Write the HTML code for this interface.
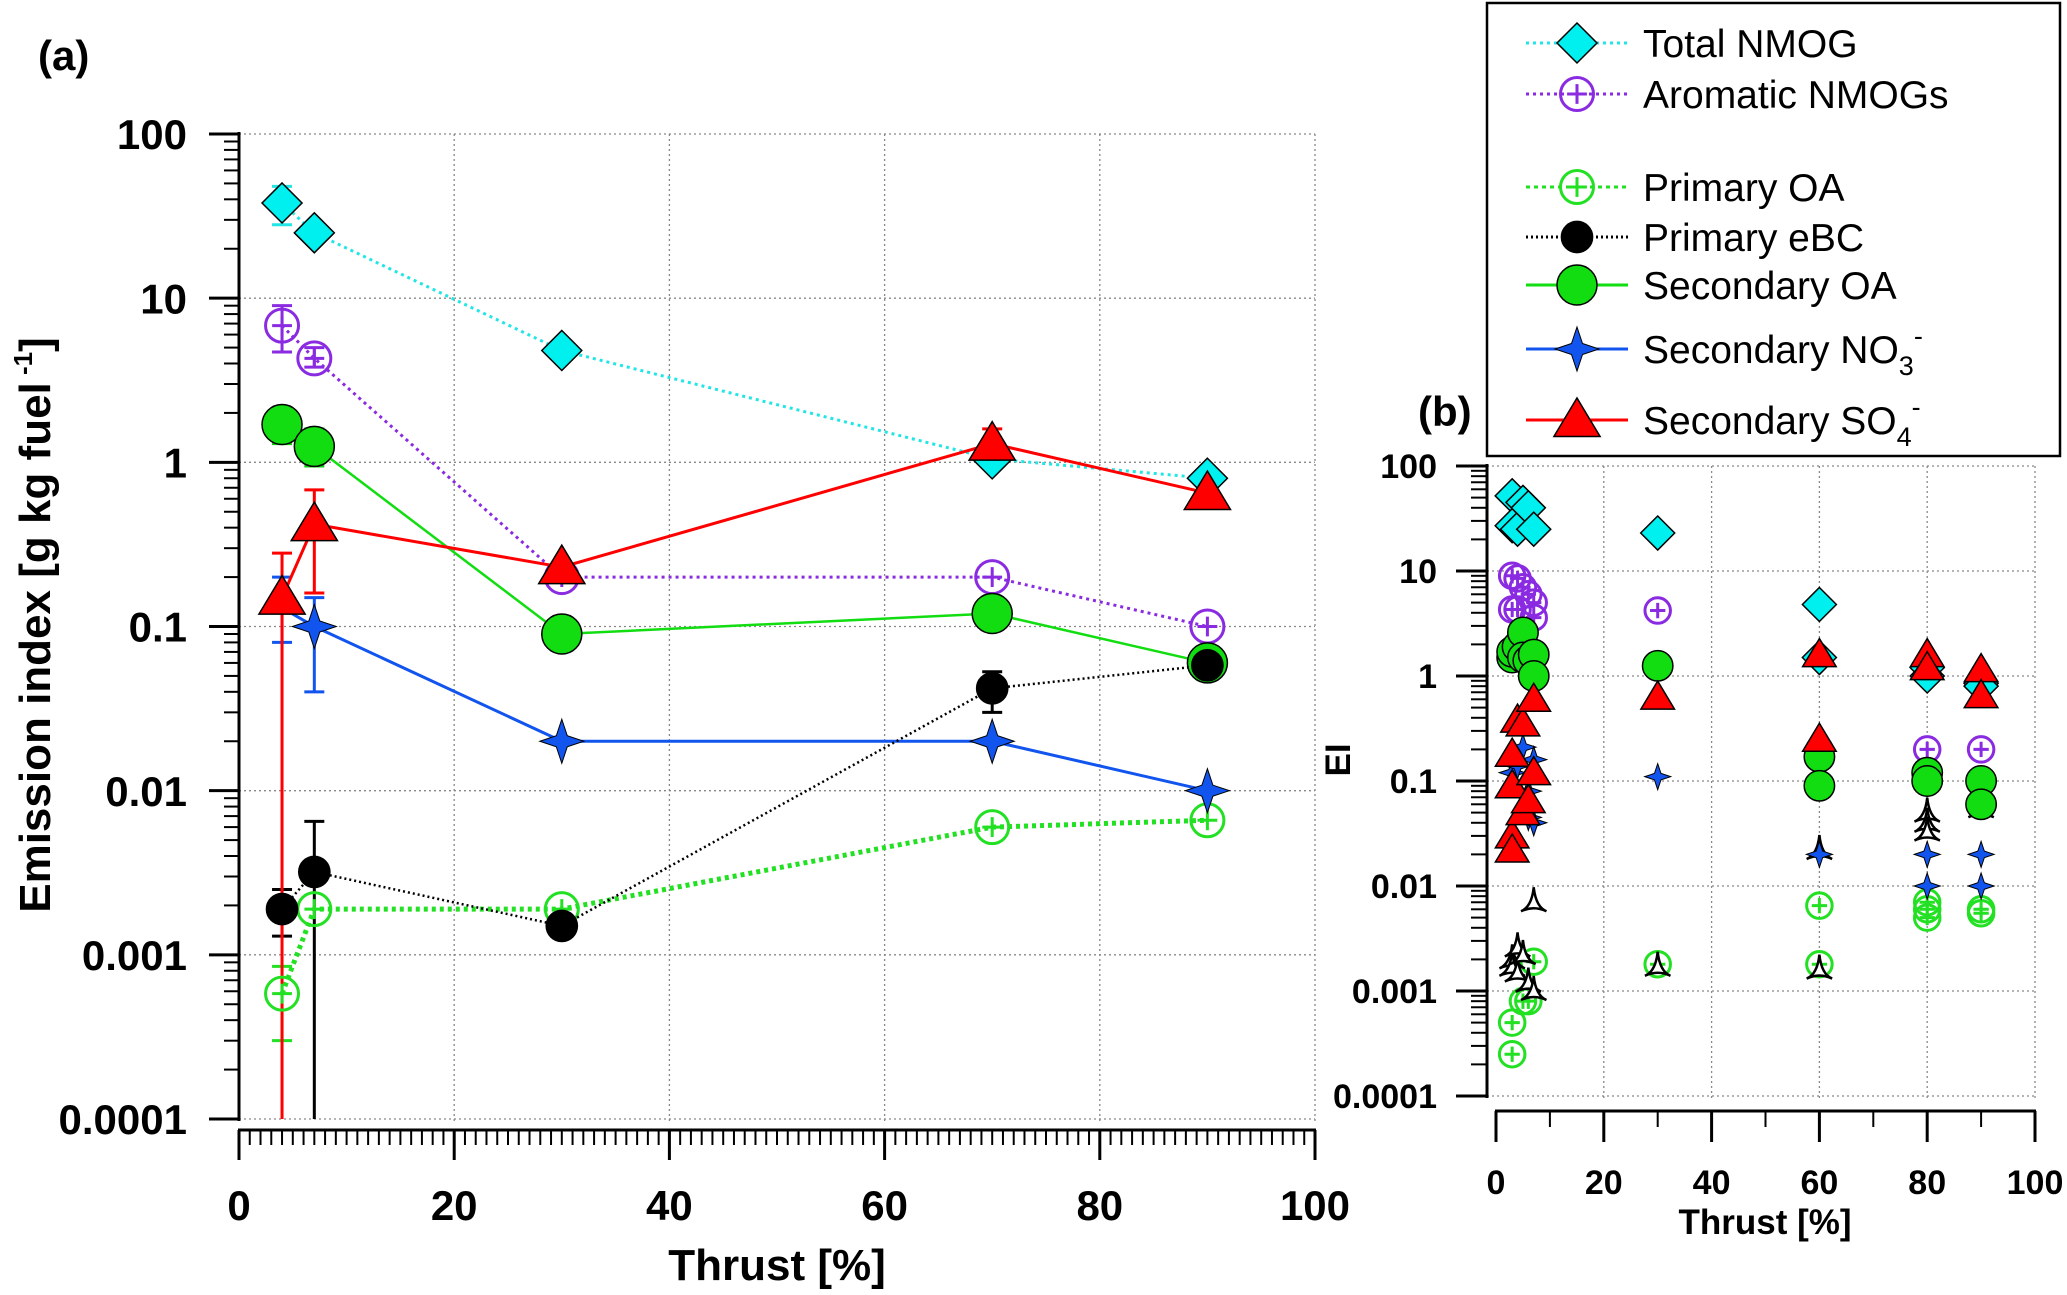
<!DOCTYPE html>
<html><head><meta charset="utf-8"><style>
html,body{margin:0;padding:0;background:#fff;}
svg{display:block;font-family:"Liberation Sans",Arial,sans-serif;}
</style></head><body>
<svg id="s" width="2067" height="1295" viewBox="0 0 2067 1295" xmlns="http://www.w3.org/2000/svg">
<text x="38" y="70" font-size="42" font-weight="bold">(a)</text>
<text x="1418" y="426" font-size="42" font-weight="bold">(b)</text>
<text transform="translate(50,625) rotate(-90)" text-anchor="middle" font-size="44" font-weight="bold">Emission index [g kg fuel<tspan dy="-18" font-size="26"> -1</tspan><tspan dy="18">]</tspan></text>
<text x="777" y="1280" text-anchor="middle" font-size="44" font-weight="bold">Thrust [%]</text>
<text x="1765" y="1234" text-anchor="middle" font-size="35" font-weight="bold">Thrust [%]</text>
<text transform="translate(1350,760) rotate(-90)" text-anchor="middle" font-size="35" font-weight="bold">EI</text>
<g id="ga"></g>
<g id="gb"></g>
<g id="leg"></g>
</svg>
<script>
const xA=[4,7,30,70,90];
const nmogA=[38,25,4.8,1.05,0.8];
const aromA=[6.8,4.3,0.2,0.2,0.1];
const poaA=[0.00058,0.0019,0.0019,0.006,0.0066];
const ebcA=[0.0019,0.0032,0.0015,0.042,0.058];
const soaA=[1.7,1.25,0.09,0.12,0.06];
const no3A=[0.13,0.1,0.02,0.02,0.01];
const so4A=[0.15,0.42,0.23,1.3,0.65];
const errA=[["nmog",4,28,48],["arom",4,4.7,9],["arom",7,3.8,5],["poa",4,0.0003,0.00085],["ebc",4,0.0013,0.0025],["ebc",7,0.0001,0.0065],["ebc",70,0.03,0.053],["soa",4,1.3,2.1],["soa",7,0.95,1.6],["no3",4,0.08,0.2],["no3",7,0.04,0.15],["so4",4,0.0001,0.28],["so4",7,0.16,0.68],["so4",70,1.1,1.6]];
const nmogB=[[3,52],[3,27],[4,25],[5,45],[6,40],[7,25],[30,23],[60,4.8],[60,1.5],[80,1.2],[80,1.0],[90,0.85],[90,0.8]];
const aromB=[[3,9],[4,8.5],[5,7],[6,6],[7,5],[3,4.3],[4,4.3],[7,3.6],[30,4.2],[60,0.2],[80,0.2],[80,0.1],[90,0.2],[90,0.1]];
const poaB=[[3,0.0005],[3,0.00025],[5,0.0008],[6,0.0008],[7,0.0019],[30,0.0018],[60,0.0065],[60,0.0018],[80,0.007],[80,0.006],[80,0.005],[90,0.006],[90,0.0055]];
const ebcB=[[3,0.002],[3,0.0017],[4,0.0026],[4,0.0015],[5,0.0022],[6,0.0012],[7,0.001],[7,0.007],[30,0.0017],[60,0.0016],[60,0.022],[80,0.05],[80,0.04],[80,0.033],[90,0.06],[90,0.055]];
const soaB=[[3,1.5],[3,1.7],[4,1.9],[5,2.6],[5,1.5],[6,1.4],[7,1.6],[7,1.0],[30,1.25],[60,0.17],[60,0.09],[80,0.12],[80,0.1],[90,0.1],[90,0.06]];
const no3B=[[3,0.12],[4,0.14],[5,0.21],[6,0.08],[7,0.16],[6,0.045],[7,0.04],[30,0.11],[60,0.02],[80,0.02],[80,0.01],[90,0.02],[90,0.01]];
const so4B=[[3,0.18],[3,0.09],[3,0.03],[3,0.022],[4,0.38],[5,0.35],[5,0.05],[6,0.065],[7,0.12],[7,0.6],[30,0.63],[60,1.6],[60,0.25],[80,1.6],[80,1.2],[90,1.15],[90,0.65]];
const yTicks=["0.0001","0.001","0.01","0.1","1","10","100"];
const xTicks=["0","20","40","60","80","100"];

const NS="http://www.w3.org/2000/svg";
function mk(p,t,a){const e=document.createElementNS(NS,t);for(const k in a)e.setAttribute(k,a[k]);p.appendChild(e);return e;}
function axes(x0,x1,ytop,ybot){return{X:v=>x0+(x1-x0)*v/100,Y:v=>ybot-(ybot-ytop)*(Math.log10(v)+4)/6};}
const A=axes(239,1315,134,1119), B=axes(1496,2035,466,1096);

function marker(g,type,cx,cy,s,nm){
 let e;
 if(type==="nmog"){e=mk(g,"path",{d:`M${cx} ${cy-s}L${cx+s} ${cy}L${cx} ${cy+s}L${cx-s} ${cy}Z`,fill:"#00f0f0",stroke:"#000","stroke-width":1.5});}
 else if(type==="arom"||type==="poa"){const c=type==="arom"?"#8a2be2":"#22e022";e=mk(g,"g",{});const r=s*0.75;
  mk(e,"circle",{cx,cy,r,fill:"none",stroke:c,"stroke-width":3});
  mk(e,"path",{d:`M${cx-r*0.6} ${cy}H${cx+r*0.6}M${cx} ${cy-r*0.6}V${cy+r*0.6}`,stroke:c,"stroke-width":3});}
 else if(type==="ebc"){e=mk(g,"circle",{cx,cy,r:s*0.72,fill:"#000",stroke:"#000"});}
 else if(type==="ebcB"){e=mk(g,"path",{d:`M${cx} ${cy-s}Q${cx+2} ${cy+s*0.3} ${cx+s*0.85} ${cy+s*0.6}Q${cx} ${cy+s*0.2} ${cx-s*0.85} ${cy+s*0.6}Q${cx-2} ${cy+s*0.3} ${cx} ${cy-s}Z`,fill:"#fff",stroke:"#000","stroke-width":2.5});}
 else if(type==="soa"){e=mk(g,"circle",{cx,cy,r:s*0.8,fill:"#11dd11",stroke:"#000","stroke-width":1.5});}
 else if(type==="no3"){const k=s*0.25;e=mk(g,"path",{d:`M${cx} ${cy-s}L${cx+k} ${cy-k}L${cx+s} ${cy}L${cx+k} ${cy+k}L${cx} ${cy+s}L${cx-k} ${cy+k}L${cx-s} ${cy}L${cx-k} ${cy-k}Z`,fill:"#1155ee",stroke:"#000","stroke-width":1});}
 else if(type==="so4"){e=mk(g,"path",{d:`M${cx} ${cy-s}L${cx+s*1.05} ${cy+s*0.75}L${cx-s*1.05} ${cy+s*0.75}Z`,fill:"#ff0000",stroke:"#000","stroke-width":1.5});}
 
 
 return e;
}

function frame(g,ax,x0,x1,ytop,ybot,yaxX,xaxY,fs,minorX,majLen,minLen,labDx,labY){
 for(let i=0;i<=6;i++){const y=ybot-(ybot-ytop)*i/6;mk(g,"line",{x1:yaxX,x2:x1,y1:y,y2:y,stroke:"#888","stroke-width":1.3,"stroke-dasharray":"2,3"});}
 for(let v=20;v<=100;v+=20){const x=ax.X(v);mk(g,"line",{x1:x,x2:x,y1:ytop,y2:ybot+2,stroke:"#888","stroke-width":1.3,"stroke-dasharray":"2,3"});}
 mk(g,"line",{x1:yaxX,x2:yaxX,y1:ytop-2,y2:ybot+2,stroke:"#000","stroke-width":3});
 mk(g,"line",{x1:x0-1,x2:x1+1,y1:xaxY,y2:xaxY,stroke:"#000","stroke-width":3});
 for(let i=0;i<=6;i++){const y=ybot-(ybot-ytop)*i/6;
  mk(g,"line",{x1:yaxX-majLen,x2:yaxX,y1:y,y2:y,stroke:"#000","stroke-width":3});
  const t=mk(g,"text",{x:yaxX-labDx,y:y+fs*0.36,"text-anchor":"end","font-size":fs,"font-weight":"bold"});t.textContent=yTicks[i];
  
  
  if(i<6)for(let m=2;m<=9;m++){const yy=y-(ybot-ytop)/6*Math.log10(m);mk(g,"line",{x1:yaxX-minLen,x2:yaxX,y1:yy,y2:yy,stroke:"#000","stroke-width":2});}}
 for(let v=0;v<=100;v+=minorX){const x=ax.X(v);const maj=v%20===0;mk(g,"line",{x1:x,x2:x,y1:xaxY,y2:xaxY+(maj?majLen:minLen),stroke:"#000","stroke-width":maj?3:2});}
 for(let i=0;i<6;i++){const t=mk(g,"text",{x:ax.X(i*20),y:labY,"text-anchor":"middle","font-size":fs,"font-weight":"bold"});t.textContent=xTicks[i];
  
  }
}
const ga=document.getElementById("ga"), gb=document.getElementById("gb");
frame(ga,A,239,1315,134,1119,239,1130,42,1,30,15,52,1220);
frame(gb,B,1496,2035,466,1096,1487,1111,34,10,31,16,50,1194);

const seriesA={nmog:nmogA,arom:aromA,poa:poaA,ebc:ebcA,soa:soaA,no3:no3A,so4:so4A};
const styleA={nmog:["#22e5e5",3,"3,4"],arom:["#8a2be2",3,"3,4"],poa:["#22e022",5,"4,4"],ebc:["#000",2.5,"2,3"],soa:["#11dd11",2.5,""],no3:["#1155ee",3,""],so4:["#ff0000",3,""]};
const colA={nmog:"#22e5e5",arom:"#8a2be2",poa:"#22e022",ebc:"#000",soa:"#11cc11",no3:"#1155ee",so4:"#ff0000"};
const sizeA={nmog:20,arom:22,poa:22,ebc:22,soa:25,no3:22,so4:22};
const order=["nmog","arom","poa","soa","no3","ebc","so4"];
errA.forEach(([k,x,lo,hi])=>{const g=mk(ga,"g",{});
 const cx=A.X(x),c=colA[k];mk(g,"line",{x1:cx,x2:cx,y1:A.Y(lo),y2:A.Y(hi),stroke:c,"stroke-width":3});
 [lo,hi].forEach(v=>{if(v>0.0001)mk(g,"line",{x1:cx-10,x2:cx+10,y1:A.Y(v),y2:A.Y(v),stroke:c,"stroke-width":3});});});
order.forEach(k=>{const d=seriesA[k],st=styleA[k];
 const pl=mk(ga,"polyline",{points:d.map((v,i)=>A.X(xA[i])+","+A.Y(v)).join(" "),fill:"none",stroke:st[0],"stroke-width":st[1],"stroke-dasharray":st[2]});
 
 
 d.forEach((v,i)=>{if(k==="no3"&&i===0)return;marker(ga,k,A.X(xA[i]),A.Y(v),sizeA[k],'point-'+k);});
});
const seriesB={nmog:nmogB,arom:aromB,poa:poaB,ebcB:ebcB,soa:soaB,no3:no3B,so4:so4B};
const sizeB={nmog:17,arom:17,poa:17,ebcB:15,soa:19,no3:13,so4:16};
["nmog","arom","poa","ebcB","soa","no3","so4"].forEach(k=>{seriesB[k].forEach(([x,v])=>marker(gb,k,B.X(x),B.Y(v),sizeB[k],'scatter-'+k));});

const leg=document.getElementById("leg");
mk(leg,"rect",{x:1487,y:3,width:573,height:453,fill:"#fff",stroke:"#000","stroke-width":2.5});
const legItems=[["nmog","Total NMOG",43,"#22e5e5","3,4",20],["arom","Aromatic NMOGs",94,"#8a2be2","3,4",22],["poa","Primary OA",187,"#22e022","4,4",22],["ebc","Primary  eBC",237,"#000","2,3",22],["soa","Secondary OA",285,"#11dd11","",25],["no3","Secondary NO",349,"#1155ee","",22],["so4","Secondary SO",420,"#ff0000","",22]];
legItems.forEach(([k,lab,y,c,da,s])=>{const g=mk(leg,"g",{});
 mk(g,"line",{x1:1526,x2:1628,y1:y,y2:y,stroke:c,"stroke-width":3,"stroke-dasharray":da});
 marker(g,k,1577,y,s,'legend-marker-'+k);
 const t=mk(g,"text",{x:1643,y:y+14,"font-size":39});t.textContent=lab;
 if(k==="no3"||k==="so4"){const sb=mk(t,"tspan",{dy:12,"font-size":27});sb.textContent=k==="no3"?"3":"4";const sp=mk(t,"tspan",{dy:-30,"font-size":27});sp.textContent="-";}
});
</script>
</body></html>
